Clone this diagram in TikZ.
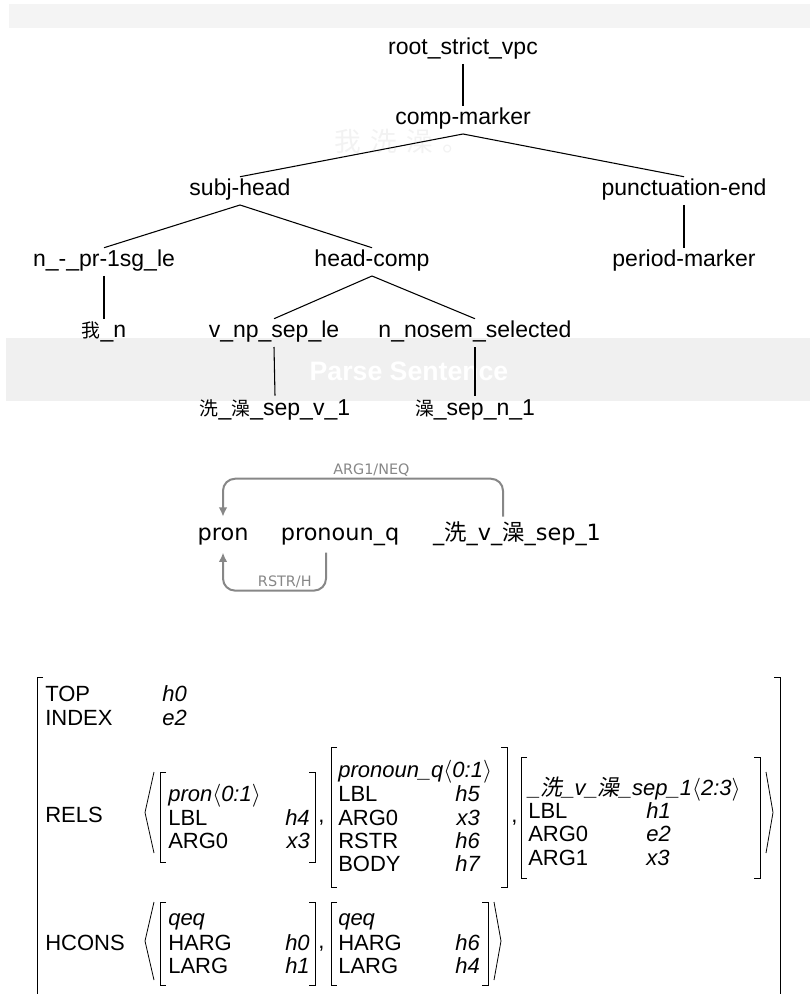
\documentclass[tikz,border=0pt]{standalone}
\usepackage{fontspec}
\setmainfont{Liberation Sans}
\newfontfamily\dejavu{DejaVu Sans}
\newfontfamily\cjk{Noto Sans CJK SC}
\newfontfamily\cjksmall[Scale=0.82]{Noto Sans CJK SC}
\newfontfamily\cjkit[FakeSlant=0.2]{Noto Sans CJK SC}
\usetikzlibrary{arrows.meta}

\definecolor{bandgray}{HTML}{F4F4F4}
\definecolor{btngray}{HTML}{F0F0F0}
\definecolor{arcgray}{HTML}{878787}

\tikzset{
  treelabel/.style={anchor=base, font=\fontsize{17.25}{20}\selectfont, inner xsep=0pt, inner ysep=2.25pt, text height=12pt, text depth=4.3pt},
  predicate/.style={anchor=base, font=\dejavu\fontsize{16.8}{20}\selectfont, inner xsep=0pt, inner ysep=5.25pt, text height=12pt, text depth=4pt},
  dmrsarc/.style={draw=arcgray, line width=1.5pt, rounded corners=9pt, -{Latex[length=7pt,width=6.5pt]}},
  arclabel/.style={font=\dejavu\fontsize{10.8}{12}\selectfont, text=arcgray, inner sep=1pt},
  avm/.style={font=\fontsize{16.5}{20}\selectfont, inner sep=0pt},
  brk/.style={line width=0.6pt},
}

\newcommand{\tnode}[4]{\node[treelabel] (#1) at (#2,#3) {#4};}
\newcommand{\branch}[2]{\draw[line width=0.8pt] (#1.south) -- (#2.north);}
\newcommand{\pred}[4]{\node[predicate] (#1) at (#2,#3) {#4};}
\newcommand{\feat}[4]{\node[avm,anchor=base west] (#1) at (#2,#3) {#4};}
\newcommand{\val}[4]{\node[avm,anchor=base east] (#1) at (#2,#3) {\itshape #4};}
\newcommand{\lval}[4]{\node[avm,anchor=base west] (#1) at (#2,#3) {\itshape #4};}
\newcommand{\sqbr}[4]{\draw[brk] (#1+6,#2) -- (#1,#2) -- (#1,#4) -- (#1+6,#4);
  \draw[brk] (#3-6,#2) -- (#3,#2) -- (#3,#4) -- (#3-6,#4);}
\newcommand{\anglebr}[4]{\draw[brk] (#1,#3) -- (#2,{(#3+#4)/2}) -- (#1,#4);}

\begin{document}
\begin{tikzpicture}[x=0.75pt,y=-0.75pt]
  \useasboundingbox (0,0) rectangle (810,994);
  % page furniture
  \fill[bandgray] (9,4) rectangle (810,28);
  \fill[btngray] (6,338) rectangle (810,401);
  \node[anchor=base, text=white, font=\bfseries\fontsize{20}{24}\selectfont] (btn) at (409,380) {Parse Sentence};
  \node[anchor=west, text=black!5, font=\cjk\fontsize{20}{22}\selectfont] (wm) at (330,141) {我\hspace{7pt}洗\hspace{7pt}澡\hspace{7pt}。};

  % derivation tree
  \tnode{root}{463}{55}{root\_strict\_vpc}
  \tnode{comp}{463}{125}{comp-marker}
  \tnode{subj}{240}{196}{subj-head}
  \tnode{punct}{684}{196}{punctuation-end}
  \tnode{pr1sg}{104}{267}{n\_-\_pr-1sg\_le}
  \tnode{hcomp}{372}{267}{head-comp}
  \tnode{period}{684}{267}{period-marker}
  \tnode{wo}{104}{338}{{\cjksmall 我}\_n}
  \tnode{vnp}{274}{338}{v\_np\_sep\_le}
  \tnode{nosem}{475}{338}{n\_nosem\_selected}
  \tnode{xizao}{275}{415}{{\cjksmall 洗}\_{\cjksmall 澡}\_sep\_v\_1}
  \tnode{zao}{475}{415}{{\cjksmall 澡}\_sep\_n\_1}
  \branch{root}{comp} \branch{comp}{subj} \branch{comp}{punct}
  \branch{subj}{pr1sg} \branch{subj}{hcomp} \branch{punct}{period}
  \branch{pr1sg}{wo} \branch{hcomp}{vnp} \branch{hcomp}{nosem}
  \branch{vnp}{xizao} \branch{nosem}{zao}

  % dependency graph
  \pred{pron}{223}{540}{pron}
  \pred{pronq}{340}{540}{pronoun\_q}
  \pred{verb}{517}{540}{\_{\cjk 洗}\_v\_{\cjk 澡}\_sep\_1}
  \draw[dmrsarc] ([xshift=-10.5pt]verb.north) -- ++(0,-38) -| node[arclabel, pos=0.235, above] (arg1) {ARG1/NEQ} (pron.north);
  \draw[dmrsarc] ([xshift=-10.5pt]pronq.south) -- ++(0,38) -| node[arclabel, pos=0.2, above] (rstr) {RSTR/H} (pron.south);

  % MRS
  \draw[brk] (43,677) -- (37,677) -- (37,994);
  \draw[brk] (774,677) -- (780,677) -- (780,994);
  \feat{top}{45}{701}{TOP}      \lval{topv}{162}{701}{h0}
  \feat{index}{45}{725}{INDEX}  \lval{indexv}{162}{725}{e2}
  \feat{rels}{45}{822}{RELS}
  \anglebr{154}{145}{772}{853}
  \sqbr{160}{772}{315}{862}
  \feat{r1t}{168}{801}{\itshape pron$\langle$0:1$\rangle$}
  \feat{r1a}{168}{825}{LBL}   \val{r1av}{310}{825}{h4}
  \feat{r1b}{168}{848}{ARG0}  \val{r1bv}{310}{848}{x3}
  \feat{c1}{318}{822}{,}
  \sqbr{331}{747}{507}{887}
  \feat{r2t}{338}{777}{\itshape pronoun\_q$\langle$0:1$\rangle$}
  \feat{r2a}{338}{801}{LBL}   \val{r2av}{480}{801}{h5}
  \feat{r2b}{338}{825}{ARG0}  \val{r2bv}{480}{825}{x3}
  \feat{r2c}{338}{848}{RSTR}  \val{r2cv}{480}{848}{h6}
  \feat{r2d}{338}{871}{BODY}  \val{r2dv}{480}{871}{h7}
  \feat{c2}{511}{822}{,}
  \sqbr{521}{757}{760}{878}
  \feat{r3t}{528}{795}{\itshape \_{\cjkit 洗}\_v\_{\cjkit 澡}\_sep\_1$\langle$2:3$\rangle$}
  \feat{r3a}{528}{818}{LBL}   \lval{r3av}{646}{818}{h1}
  \feat{r3b}{528}{841}{ARG0}  \lval{r3bv}{646}{841}{e2}
  \feat{r3c}{528}{865}{ARG1}  \lval{r3cv}{646}{865}{x3}
  \anglebr{766}{773}{772}{853}
  \feat{hcons}{45}{950}{HCONS}
  \anglebr{154}{145}{902}{980}
  \sqbr{160}{902}{315}{985}
  \feat{h1t}{168}{925}{\itshape qeq}
  \feat{h1a}{168}{950}{HARG}  \val{h1av}{310}{950}{h0}
  \feat{h1b}{168}{973}{LARG}  \val{h1bv}{310}{973}{h1}
  \feat{c3}{318}{948}{,}
  \sqbr{331}{902}{488}{985}
  \feat{h2t}{338}{925}{\itshape qeq}
  \feat{h2a}{338}{950}{HARG}  \val{h2av}{480}{950}{h6}
  \feat{h2b}{338}{973}{LARG}  \val{h2bv}{480}{973}{h4}
  \anglebr{494}{501}{902}{980}
\end{tikzpicture}
\end{document}
